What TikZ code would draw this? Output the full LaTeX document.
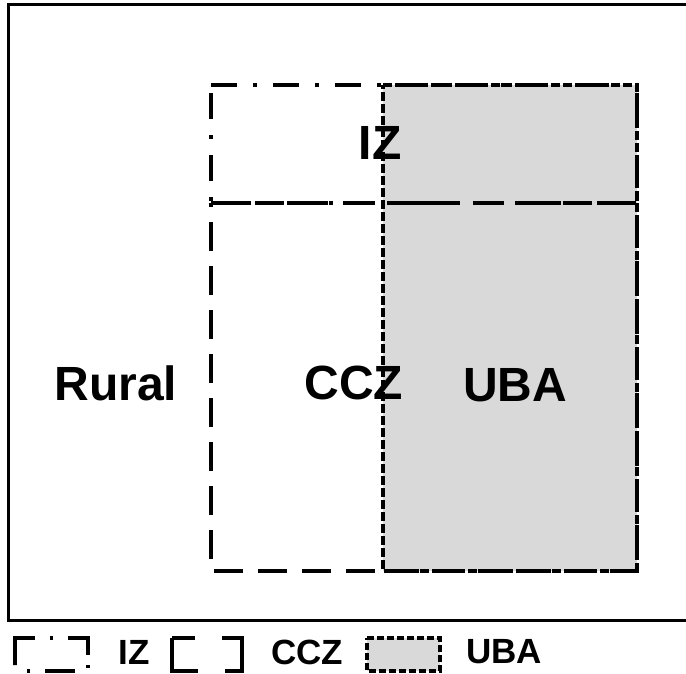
\documentclass[tikz,border=0pt]{standalone}
\usepackage{fontspec}
\setmainfont{Liberation Sans}

\definecolor{ubagray}{HTML}{D9D9D9}

\begin{document}
\begin{tikzpicture}[x=1pt,y=-1pt]
% Zone styles
\tikzset{
    izline/.style={line width=3.5pt, dash pattern=on 26pt off 16pt on 4pt off 16pt},
    cczline/.style={line width=3.5pt, dash pattern=on 29pt off 15pt},
    ubaline/.style={line width=3.5pt, dash pattern=on 9pt off 3pt},
    zonelabel/.style={font=\fontsize{48}{48}\selectfont\bfseries},
    legendlabel/.style={font=\fontsize{35}{35}\selectfont\bfseries}
}
\useasboundingbox (0,0) rectangle (686,674);
\clip (0,0) rectangle (686,674);
% Outer frame
\draw[line width=3pt] (8.5,5) -- (700,5) -- (700,620) -- (8.5,620) -- cycle;

% Zones
\fill[ubagray] (383,85) rectangle (637,571);
\draw[cczline] (211,203) -- (637,203) -- (637,571) -- (211,571) -- cycle;
\draw[izline] (211,85) -- (637,85) -- (637,203) -- (211,203) -- cycle;
\draw[ubaline] (383,85) -- (637,85) -- (637,571) -- (383,571) -- cycle;

% Labels
\node[zonelabel] (IZ) at (380,143) {IZ};
\node[zonelabel] (Rural) at (116,383) {Rural};
\node[zonelabel] (CCZ) at (354,383) {CCZ};
\node[zonelabel] (UBA) at (515,385) {UBA};

% Legend
\draw[line width=3.5pt, dash pattern=on 47pt off 15pt on 3pt off 15pt on 37pt off 10pt on 3pt off 16pt on 30pt off 15pt on 3pt off 18pt]
    (15,665) -- (15,638) -- (88,638) -- (88,671) -- (15,671) -- (15,665);
\node[legendlabel] (IZkey) at (134,652) {IZ};
\draw[line width=3.5pt, dash pattern=on 23pt off 27pt on 70pt off 27pt on 59pt off 0pt]
    (172,638) -- (242,638) -- (242,671) -- (172,671) -- cycle;
\node[legendlabel] (CCZkey) at (307,652) {CCZ};
\filldraw[fill=ubagray, line width=3.5pt, dash pattern=on 7pt off 3pt]
    (367,638) -- (440,638) -- (440,671) -- (367,671) -- cycle;
\node[legendlabel] (UBAkey) at (504,652) {UBA};
\end{tikzpicture}
\end{document}
